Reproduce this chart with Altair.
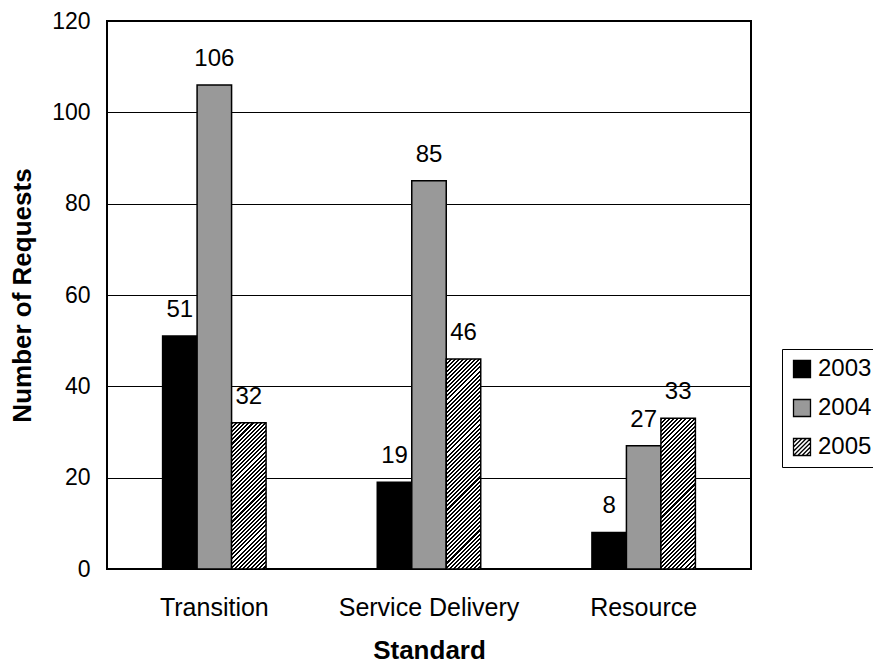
import math
import altair as alt
import pandas as pd

# ---- data ----
categories = ["Transition", "Service Delivery", "Resource"]
years = ["2003", "2004", "2005"]
values_2003 = [51, 19, 8]
values_2004 = [106, 85, 27]
values_2005 = [32, 46, 33]

rows = []
for yr, vals in zip(years, [values_2003, values_2004, values_2005]):
    for c, v in zip(categories, vals):
        rows.append({"Standard": c, "Year": yr, "Requests": v})
df = pd.DataFrame(rows)

# ---- layout / style ----
W, H = 644, 548
Y_MAX = 120
PAD_INNER = 0.518
FONT = "Liberation Sans"
GRAY = "#999999"

step = W / 3
bar_w = step * (1 - PAD_INNER) / 3


def hatch_fill(value, period=2.9, frac=0.5):
    """Diagonal black/white stripes as a linear gradient with hard stops."""
    h = value * H / Y_MAX
    w = bar_w
    k = (1 / h + 1 / w) / (1 / h ** 2 + 1 / w ** 2)
    a, b = k / h, k / w
    n = max(1, round((w + h) / (math.sqrt(2) * period)))
    stops = []
    for i in range(n):
        o0, o1, o2 = i / n, (i + frac) / n, (i + 1) / n
        stops += [
            {"offset": o0, "color": "#000000"},
            {"offset": o1, "color": "#000000"},
            {"offset": o1, "color": "#ffffff"},
            {"offset": o2, "color": "#ffffff"},
        ]
    return {"gradient": "linear", "x1": 0, "y1": 0, "x2": a, "y2": b, "stops": stops}


x_enc = alt.X(
    "Standard:N",
    sort=categories,
    scale=alt.Scale(paddingInner=PAD_INNER, paddingOuter=PAD_INNER / 2),
    axis=alt.Axis(
        title="Standard",
        labelAngle=0,
        labelFontSize=25,
        labelFont=FONT,
        labelColor="black",
        labelPadding=26,
        labelLimit=400,
        ticks=False,
        domain=False,
        titleFontSize=26,
        titleFont=FONT,
        titleFontWeight="bold",
        titleColor="black",
        titleX=W / 2,
        titleY=81,
        titleBaseline="middle",
        titleAlign="center",
    ),
)
xo_enc = alt.XOffset("Year:N", scale=alt.Scale(domain=years, paddingInner=0, paddingOuter=0))
y_enc = alt.Y(
    "Requests:Q",
    scale=alt.Scale(domain=[0, Y_MAX], nice=False),
    axis=alt.Axis(
        title="Number of Requests",
        values=[0, 20, 40, 60, 80, 100, 120],
        labelFontSize=23,
        labelFont=FONT,
        labelColor="black",
        labelPadding=17,
        ticks=False,
        tickSize=0,
        domain=False,
        grid=True,
        gridColor="black",
        gridWidth=1,
        gridOpacity=1,
        titleFontSize=26,
        titleFont=FONT,
        titleFontWeight="bold",
        titleColor="black",
        titleAngle=270,
        titleX=-85,
        titleY=H / 2,
        titleBaseline="middle",
        titleAlign="center",
    ),
)

base = alt.Chart(df)

bars_2003 = base.transform_filter(alt.datum.Year == "2003").mark_bar(
    stroke="black", strokeWidth=1.5, fill="#000000"
).encode(x=x_enc, xOffset=xo_enc, y=y_enc)

bars_2004 = base.transform_filter(alt.datum.Year == "2004").mark_bar(
    stroke="black", strokeWidth=1.5, fill=GRAY
).encode(x=x_enc, xOffset=xo_enc, y=y_enc)

hatched_layers = []
for c, v in zip(categories, values_2005):
    hatched_layers.append(
        base.transform_filter((alt.datum.Year == "2005") & (alt.datum.Standard == c))
        .mark_bar(stroke="black", strokeWidth=1.5, fill=hatch_fill(v))
        .encode(x=x_enc, xOffset=xo_enc, y=y_enc)
    )

labels = base.mark_text(
    dy=-19, baseline="alphabetic", fontSize=24, font=FONT, color="black"
).encode(x=x_enc, xOffset=xo_enc, y=y_enc, text="Requests:Q")

square = "M-1,-1H1V1H-1Z"
hatch_sym = (
    "M-1,-1H1V1H-1Z"
    "M-1,-0.5L-0.5,-1M-1,0L0,-1M-1,0.5L0.5,-1M-1,1L1,-1"
    "M-0.5,1L1,-0.5M0,1L1,0M0.5,1L1,0.5"
)

legend_def = alt.Legend(
    title=None,
    orient="none",
    legendX=675,
    legendY=328,
    strokeColor="black",
    fillColor="white",
    padding=8,
    symbolSize=289,
    symbolStrokeColor="black",
    symbolStrokeWidth=1.3,
    labelFontSize=24,
    labelFont=FONT,
    labelColor="black",
    labelOffset=4,
    rowPadding=15,
)

# legend-only layer: no rows survive the filter, the scale domains are explicit
legend_pts = base.transform_filter(alt.datum.Requests < 0).mark_point(
    size=289, filled=True, opacity=1, strokeWidth=1.3
).encode(
    x=x_enc,
    xOffset=xo_enc,
    y=y_enc,
    fill=alt.Fill("Year:N", scale=alt.Scale(domain=years, range=["#000000", GRAY, "#ffffff"]), legend=legend_def),
    stroke=alt.Stroke("Year:N", scale=alt.Scale(domain=years, range=["#000000", "#000000", "#000000"]), legend=legend_def),
    shape=alt.Shape("Year:N", scale=alt.Scale(domain=years, range=[square, square, hatch_sym]), legend=legend_def),
)

chart = (
    alt.layer(bars_2003, bars_2004, *hatched_layers, labels, legend_pts)
    .properties(
        width=W,
        height=H,
        autosize=alt.AutoSizeParams(type="none"),
        padding={"left": 107, "top": 21, "right": 122, "bottom": 95},
        background="white",
    )
    .configure_view(stroke="black", strokeWidth=2)
)

chart.save("out.html", embed_options={"renderer": "svg", "actions": False})
